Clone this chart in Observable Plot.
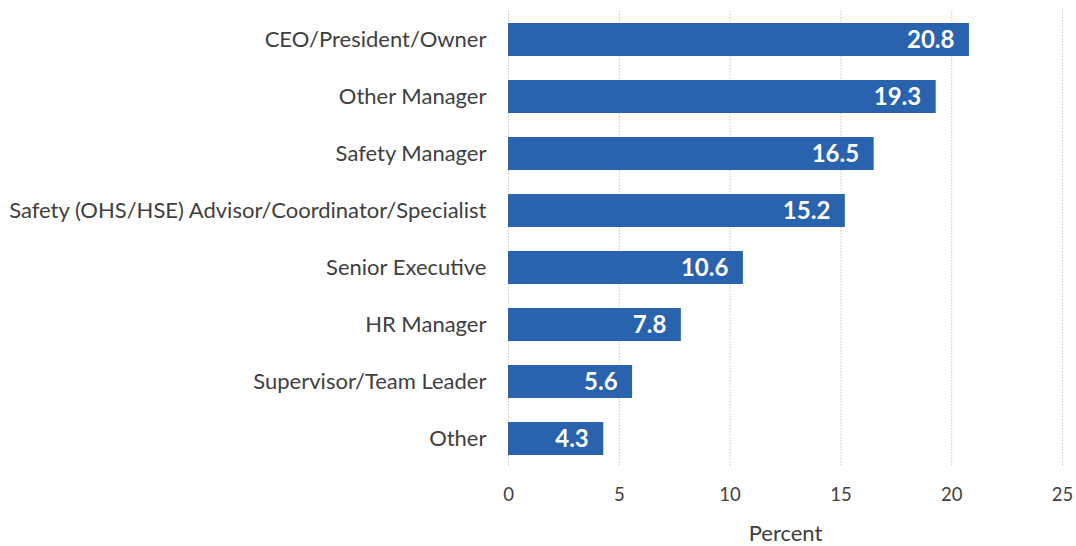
<!DOCTYPE html>
<html>
<head>
<meta charset="utf-8">
<script src="https://cdn.jsdelivr.net/npm/d3@7"></script>
<script src="https://cdn.jsdelivr.net/npm/@observablehq/plot@0.6"></script>
<style>
  html, body { margin: 0; padding: 0; background: #fff; }
  #chart svg { display: block; }
</style>
</head>
<body>
<div id="chart"></div>
<script>
const categories = [
  "CEO/President/Owner",
  "Other Manager",
  "Safety Manager",
  "Safety (OHS/HSE) Advisor/Coordinator/Specialist",
  "Senior Executive",
  "HR Manager",
  "Supervisor/Team Leader",
  "Other"
];
const values = [20.8, 19.3, 16.5, 15.2, 10.6, 7.8, 5.6, 4.3];
const xTicks = [0, 5, 10, 15, 20, 25];
const xLabel = "Percent";

const data = categories.map((c, i) => ({category: c, value: values[i]}));
const font = "Lato, 'Open Sans', sans-serif";

const plot = Plot.plot({
  width: 1076,
  height: 546,
  marginLeft: 508,
  marginRight: 14,
  marginTop: 11,
  marginBottom: 79,
  style: {fontFamily: font, background: "#fff"},
  x: {domain: [0, 25], ticks: xTicks, label: null},
  y: {domain: categories, paddingInner: 0.42, paddingOuter: 0.21, label: null},
  marks: [
    Plot.ruleX(xTicks, {stroke: "#c8c8c8", strokeWidth: 1, strokeDasharray: "1.5,1.5"}),
    Plot.barX(data, {x: "value", y: "category", fill: "#2962ad"}),
    Plot.text(data, {x: "value", y: "category", text: d => d.value.toFixed(1), textAnchor: "end", dx: -15, fill: "white", fontWeight: "bold", fontSize: 24, fontFamily: font}),
    Plot.axisY({tickSize: 0, tickPadding: 22, fontSize: 22, color: "#404040", label: null}),
    Plot.axisX({ticks: xTicks, tickSize: 0, tickPadding: 20, fontSize: 18.5, color: "#404040", label: null}),
    Plot.text([xLabel], {frameAnchor: "bottom", dy: 73, fontSize: 22, fill: "#404040", fontFamily: font})
  ]
});
document.getElementById("chart").appendChild(plot);
</script>
</body>
</html>
